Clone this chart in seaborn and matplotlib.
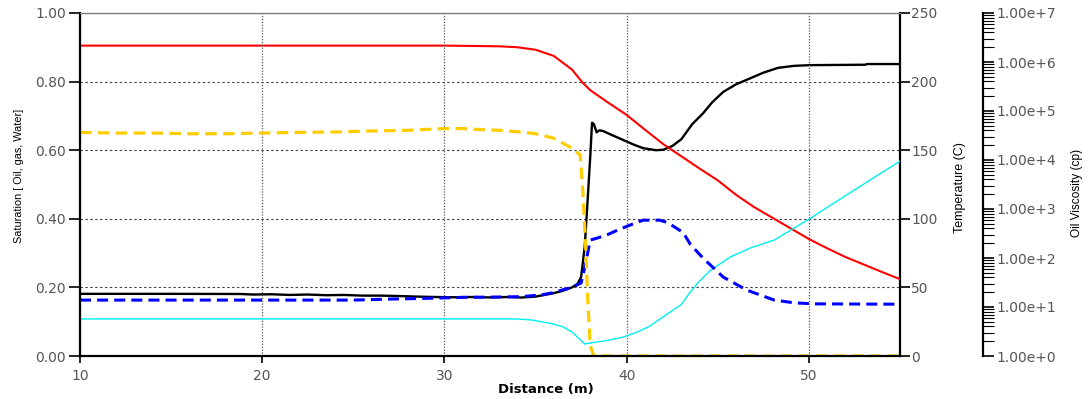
import numpy as np
import pandas as pd
import seaborn as sns
import matplotlib
matplotlib.use("Agg")
import matplotlib.pyplot as plt
from matplotlib import font_manager
from matplotlib.ticker import FixedLocator, FuncFormatter, NullFormatter

# ---- profiles along the distance axis ----
# temperature (C)
temp_dist = [10, 15, 18.8, 19.5, 20.5, 21.5, 22.5, 23.5, 24.5, 25.5, 26.5, 27.5, 28.5,
             29.5, 30.5, 31.5, 32.5, 33.5, 34.2, 35, 35.9, 36.5, 37.0, 37.3, 37.5, 37.7,
             37.85, 38.0, 38.1, 38.2, 38.35, 38.5, 38.7, 39.2, 39.8, 40.4, 40.9, 41.6,
             42.0, 42.5, 43.0, 43.6, 44.2, 44.7, 45.3, 46.0, 46.8, 47.5, 48.3, 49.2,
             50.1, 53.1, 53.2, 55]
temp_val = [45.3, 45.3, 45.2, 44.8, 45.0, 44.5, 44.8, 44.3, 44.5, 44.0, 44.0, 43.7, 43.3,
            43.0, 42.8, 43.0, 42.7, 43.0, 42.6, 43.3, 45.5, 47.5, 50.0, 52.5, 57.5, 80.0,
            112.0, 145.0, 170.0, 169.0, 163.0, 164.5, 164.0, 161.0, 157.5, 154.0, 151.5,
            150.0, 150.3, 153.0, 158.0, 169.0, 177.0, 185.0, 192.5, 198.0, 202.5, 206.5,
            210.0, 211.5, 212.0, 212.3, 212.8, 212.8]

# oil viscosity (cp)
visc_dist = [10, 30, 33, 34, 35, 36, 37, 37.6, 38, 39, 40, 41, 42, 43, 44, 45, 46, 47,
             48, 49, 50, 51, 52, 53, 54, 55]
visc_val = [2.16e6, 2.16e6, 2.09e6, 2.0e6, 1.78e6, 1.33e6, 7.0e5, 3.73e5, 2.66e5, 1.47e5,
            8.3e4, 4.17e4, 2.12e4, 1.19e4, 6.7e3, 3.84e3, 1.95e3, 1.09e3, 662, 402, 244,
            158, 105, 74, 52, 37]

# oil saturation
so_dist = [10, 12, 14, 16, 18, 20, 22, 24, 26, 28, 30, 31, 32, 33, 34.2, 35, 36, 37,
           37.45, 37.6, 37.75, 37.85, 38.0, 38.2, 55]
so_val = [0.652, 0.650, 0.650, 0.648, 0.648, 0.650, 0.652, 0.653, 0.656, 0.658, 0.663,
          0.663, 0.660, 0.658, 0.653, 0.648, 0.635, 0.606, 0.586, 0.475, 0.320, 0.180,
          0.030, 0.0, 0.0]

# water saturation
sw_dist = [10, 25, 27, 29, 31, 33, 34.2, 35.3, 36, 36.5, 37, 37.5, 37.75, 38.0, 38.4, 39,
           39.5, 40.2, 40.9, 41.8, 42.2, 42.6, 43.1, 43.5, 44.2, 45.3, 46.6, 48.1, 49.2,
           50.3, 55]
sw_val = [0.163, 0.163, 0.166, 0.168, 0.171, 0.172, 0.173, 0.178, 0.185, 0.193, 0.200,
          0.213, 0.270, 0.338, 0.344, 0.355, 0.367, 0.382, 0.396, 0.396, 0.390, 0.377,
          0.360, 0.325, 0.285, 0.230, 0.192, 0.163, 0.155, 0.152, 0.151]

# gas saturation
sg_dist = [10, 34, 34.8, 35.4, 36, 36.5, 37.0, 37.4, 37.7, 38.0, 38.4, 39.0, 39.8, 40.5,
           41.2, 42.3, 43.0, 43.4, 43.9, 44.6, 45.7, 46.8, 48.1, 49.0, 50.1, 51.2, 52.5,
           53.8, 55]
sg_val = [0.108, 0.108, 0.105, 0.099, 0.093, 0.085, 0.070, 0.050, 0.035, 0.038, 0.041,
          0.046, 0.055, 0.068, 0.085, 0.125, 0.150, 0.180, 0.213, 0.250, 0.289, 0.315,
          0.338, 0.367, 0.402, 0.440, 0.484, 0.528, 0.568]

x_ticks = [10, 20, 30, 40, 50]
sat_ticks = [0.0, 0.2, 0.4, 0.6, 0.8, 1.0]
temp_ticks = [0, 50, 100, 150, 200, 250]
visc_ticks = [1e0, 1e1, 1e2, 1e3, 1e4, 1e5, 1e6, 1e7]

sns.set_style("ticks")
plt.rcParams["font.family"] = ["DejaVu Sans"]

available = {f.name for f in font_manager.fontManager.ttflist}
narrow = "Liberation Sans Narrow" if "Liberation Sans Narrow" in available else "Liberation Sans"

W, H = 1091, 399
fig = plt.figure(figsize=(W / 100, H / 100), dpi=100, facecolor="white")
ax = fig.add_axes([80 / W, 1 - 356 / H, 820 / W, 343 / H])
ax2 = ax.twinx()
ax3 = ax.twinx()
ax3.spines["right"].set_position(("axes", (983 - 80) / 820))

# saturations on top, then viscosity, then temperature
ax.set_zorder(3)
ax3.set_zorder(2)
ax2.set_zorder(1)
ax.patch.set_visible(False)
ax2.patch.set_visible(False)
ax3.patch.set_visible(False)

tick_col = "#555555"

# temperature
sns.lineplot(x=temp_dist, y=temp_val, ax=ax2, color="black", linewidth=1.7,
             estimator=None, sort=False, legend=False)
# viscosity
sns.lineplot(x=visc_dist, y=visc_val, ax=ax3, color="#ff0000", linewidth=1.5,
             estimator=None, sort=False, legend=False)
# saturations
sns.lineplot(x=sg_dist, y=sg_val, ax=ax, color="#00f0f0", linewidth=1.0,
             estimator=None, sort=False, legend=False)
sns.lineplot(x=sw_dist, y=sw_val, ax=ax, color="#0000ff", linewidth=2.2,
             linestyle=(0, (3.6, 2.0)), estimator=None, sort=False, legend=False)
sns.lineplot(x=so_dist, y=so_val, ax=ax, color="#ffcc00", linewidth=2.3,
             linestyle=(0, (3.6, 2.0)), estimator=None, sort=False, legend=False)

# main (saturation) axis
ax.set_xlim(10, 55)
ax.set_ylim(0, 1)
ax.xaxis.set_major_locator(FixedLocator(x_ticks))
ax.yaxis.set_major_locator(FixedLocator(sat_ticks))
ax.yaxis.set_major_formatter(FuncFormatter(lambda v, p: f"{v:.2f}"))
ax.tick_params(axis="y", direction="out", length=8, width=1.2, color="black", pad=2,
               labelsize=10, labelcolor=tick_col)
ax.tick_params(axis="x", direction="out", length=5, width=1.2, color="black", pad=4,
               labelsize=10, labelcolor=tick_col)
ax.set_xlabel("")
ax.set_ylabel("")
for s in ("left", "bottom"):
    ax.spines[s].set_linewidth(1.6)
    ax.spines[s].set_color("black")
ax.spines["top"].set_visible(True)
ax.spines["top"].set_color("#808080")
ax.spines["top"].set_linewidth(1.0)
ax.spines["right"].set_visible(False)
ax.xaxis.grid(True, linestyle=(0, (1, 1.3)), color="#555555", linewidth=0.9)

# temperature axis
ax2.set_ylim(0, 250)
ax2.yaxis.set_major_locator(FixedLocator(temp_ticks))
ax2.tick_params(axis="y", direction="out", length=7, width=1.2, color="black", pad=1,
                labelsize=10, labelcolor=tick_col)
ax2.set_ylabel("")
ax2.set_xlabel("")
for s in ("left", "top", "bottom"):
    ax2.spines[s].set_visible(False)
ax2.spines["right"].set_linewidth(1.6)
ax2.spines["right"].set_color("black")
ax2.yaxis.grid(True, linestyle=(0, (2.2, 2.2)), color="#444444", linewidth=0.8)

# viscosity axis (log scale)
ax3.set_yscale("log")
ax3.set_ylim(1, 1e7)
minor_ticks = [m * 10.0 ** k for k in range(7) for m in range(2, 10)]
ax3.yaxis.set_major_locator(FixedLocator(visc_ticks))
ax3.yaxis.set_minor_locator(FixedLocator(minor_ticks))
ax3.yaxis.set_minor_formatter(NullFormatter())


def sci_label(v, pos):
    m, e = f"{v:.2e}".split("e")
    return f"{m}e{int(e):+d}"


ax3.yaxis.set_major_formatter(FuncFormatter(sci_label))
ax3.tick_params(axis="y", which="major", direction="out", length=8, width=1.2,
                color="black", pad=2, labelsize=10, labelcolor=tick_col)
ax3.tick_params(axis="y", which="minor", direction="out", length=8, width=0.8,
                color="black")
ax3.set_ylabel("")
ax3.set_xlabel("")
for s in ("left", "top", "bottom"):
    ax3.spines[s].set_visible(False)
ax3.spines["right"].set_linewidth(1.6)
ax3.spines["right"].set_color("black")

# axis titles
fig.text(19 / W, 1 - 176 / H, "Saturation [ Oil, gas, Water]", rotation=90,
         ha="center", va="center", family=narrow, fontsize=7.8, color="black")
fig.text(960 / W, 1 - 188 / H, "Temperature (C)", rotation=90,
         ha="center", va="center", family=narrow, fontsize=9.0, color="black")
fig.text(1077 / W, 1 - 193 / H, "Oil Viscosity (cp)", rotation=90,
         ha="center", va="center", family=narrow, fontsize=8.6, color="black")
fig.text(546 / W, 1 - 390 / H, "Distance (m)", ha="center", va="center",
         fontsize=9.5, fontweight="bold", color="black")

fig.savefig("out.png", dpi=100, facecolor="white")
